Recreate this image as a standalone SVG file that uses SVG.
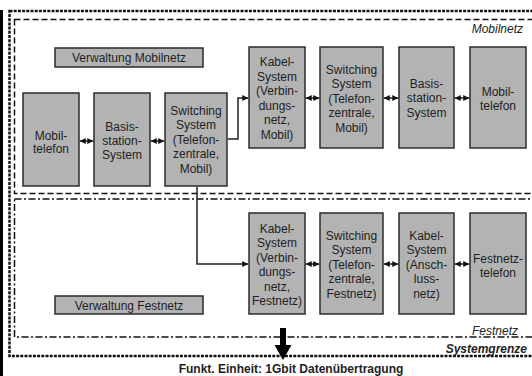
<svg xmlns="http://www.w3.org/2000/svg" width="532" height="376" viewBox="0 0 532 376">
<defs>
<style>
.box{fill:#b3b3b3;stroke:#2b2b2b;stroke-width:1.5}
.t{font-family:"Liberation Sans",Arial,sans-serif;font-size:12px;fill:#1e1e1e;text-anchor:middle}
.lbl{font-family:"Liberation Sans",Arial,sans-serif;font-size:12px;fill:#222;font-style:italic;text-anchor:end}
.con{fill:none;stroke:#222;stroke-width:1.5}
</style>
<marker id="ah" viewBox="0 0 6 6" refX="6" refY="3" markerWidth="6" markerHeight="6" markerUnits="userSpaceOnUse" orient="auto-start-reverse">
<path d="M0,0 L6,3 L0,6 Z" fill="#111"/>
</marker>
</defs>
<rect width="532" height="376" fill="#fff"/>
<rect x="0" y="10" width="3" height="366" fill="#000"/>
<!-- frames -->
<rect x="9.5" y="11" width="540" height="345" fill="none" stroke="#111" stroke-width="2.5" stroke-dasharray="3 1.2"/>
<rect x="14.5" y="19.5" width="540" height="174" fill="none" stroke="#111" stroke-width="1.5" stroke-dasharray="6 3"/>
<rect x="14.5" y="199" width="540" height="138" fill="none" stroke="#111" stroke-width="1.5" stroke-dasharray="7 2.5 2 2.5"/>
<text class="lbl" x="523" y="32.5">Mobilnetz</text>
<text class="lbl" x="518" y="335">Festnetz</text>
<text class="lbl" x="527" y="353" font-weight="bold">Systemgrenze</text>
<text class="t" x="291" y="372.5" font-weight="bold" fill="#111">Funkt. Einheit: 1Gbit Datenübertragung</text>
<polygon points="280,328 286,328 286,345 291.5,345 283,360 274.5,345 280,345" fill="#000"/>

<g id="verw-mobil"><rect class="box" x="55" y="48" width="148" height="19"/><text class="t" x="129" y="62">Verwaltung Mobilnetz</text></g>
<g id="mobiltelefon-l"><rect class="box" x="23" y="93" width="56" height="93"/><text class="t" x="51" y="139.5">Mobil-</text><text class="t" x="51" y="153">telefon</text></g>
<g id="basis-l"><rect class="box" x="94" y="93" width="56" height="93"/><text class="t" x="122" y="131">Basis-</text><text class="t" x="122" y="145">station-</text><text class="t" x="122" y="159">System</text></g>
<g id="switch-l"><rect class="box" x="165" y="93" width="62" height="93"/><text class="t" x="196" y="114.5">Switching</text><text class="t" x="196" y="129">System</text><text class="t" x="196" y="143.5">(Telefon-</text><text class="t" x="196" y="158">zentrale,</text><text class="t" x="196" y="172.5">Mobil)</text></g>
<g id="kabel-mobil"><rect class="box" x="249" y="47" width="56" height="101"/><text class="t" x="277" y="66">Kabel-</text><text class="t" x="277" y="80.5">System</text><text class="t" x="277" y="95">(Verbin-</text><text class="t" x="277" y="109.5">dungs-</text><text class="t" x="277" y="124">netz,</text><text class="t" x="277" y="138.5">Mobil)</text></g>
<g id="switch-mobil"><rect class="box" x="320" y="47" width="63" height="101"/><text class="t" x="351.5" y="73.5">Switching</text><text class="t" x="351.5" y="88">System</text><text class="t" x="351.5" y="102.5">(Telefon-</text><text class="t" x="351.5" y="117">zentrale,</text><text class="t" x="351.5" y="131.5">Mobil)</text></g>
<g id="basis-r"><rect class="box" x="399" y="47" width="55" height="101"/><text class="t" x="426.5" y="87.5">Basis-</text><text class="t" x="426.5" y="102">station-</text><text class="t" x="426.5" y="116.5">System</text></g>
<g id="mobiltelefon-r"><rect class="box" x="470" y="47" width="56" height="101"/><text class="t" x="498" y="95.5">Mobil-</text><text class="t" x="498" y="110">telefon</text></g>

<g id="verw-fest"><rect class="box" x="55" y="296" width="148" height="18"/><text class="t" x="129" y="309.5">Verwaltung Festnetz</text></g>
<g id="kabel-fest"><rect class="box" x="249" y="213" width="56" height="101"/><text class="t" x="277" y="232.5">Kabel-</text><text class="t" x="277" y="247">System</text><text class="t" x="277" y="261.5">(Verbin-</text><text class="t" x="277" y="276">dungs-</text><text class="t" x="277" y="290.5">netz,</text><text class="t" x="277" y="305">Festnetz)</text></g>
<g id="switch-fest"><rect class="box" x="320" y="213" width="63" height="101"/><text class="t" x="351.5" y="239.5">Switching</text><text class="t" x="351.5" y="254">System</text><text class="t" x="351.5" y="268.5">(Telefon-</text><text class="t" x="351.5" y="283">zentrale,</text><text class="t" x="351.5" y="297.5">Festnetz)</text></g>
<g id="kabel-ansch"><rect class="box" x="399" y="213" width="55" height="101"/><text class="t" x="426.5" y="239.5">Kabel-</text><text class="t" x="426.5" y="254">System</text><text class="t" x="426.5" y="268.5">(Ansch-</text><text class="t" x="426.5" y="283">luss-</text><text class="t" x="426.5" y="297.5">netz)</text></g>
<g id="festnetztelefon"><rect class="box" x="470" y="213" width="56" height="101"/><text class="t" x="498" y="262.5">Festnetz-</text><text class="t" x="498" y="277">telefon</text></g>

<g id="connectors">
<path class="con" d="M79.75,141 H93.25" marker-start="url(#ah)" marker-end="url(#ah)"/>
<path class="con" d="M150.75,141 H164.25" marker-start="url(#ah)" marker-end="url(#ah)"/>
<path class="con" d="M305.75,98 H319.25" marker-start="url(#ah)" marker-end="url(#ah)"/>
<path class="con" d="M383.75,98 H398.25" marker-start="url(#ah)" marker-end="url(#ah)"/>
<path class="con" d="M454.75,98 H469.25" marker-start="url(#ah)" marker-end="url(#ah)"/>
<path class="con" d="M305.75,264 H319.25" marker-start="url(#ah)" marker-end="url(#ah)"/>
<path class="con" d="M383.75,264 H398.25" marker-start="url(#ah)" marker-end="url(#ah)"/>
<path class="con" d="M454.75,264 H469.25" marker-start="url(#ah)" marker-end="url(#ah)"/>
<path class="con" d="M227.75,139 H238 V98 H248.25" marker-end="url(#ah)"/>
<path class="con" d="M197,186.75 V264 H248.25" marker-end="url(#ah)"/>
</g>
</svg>
